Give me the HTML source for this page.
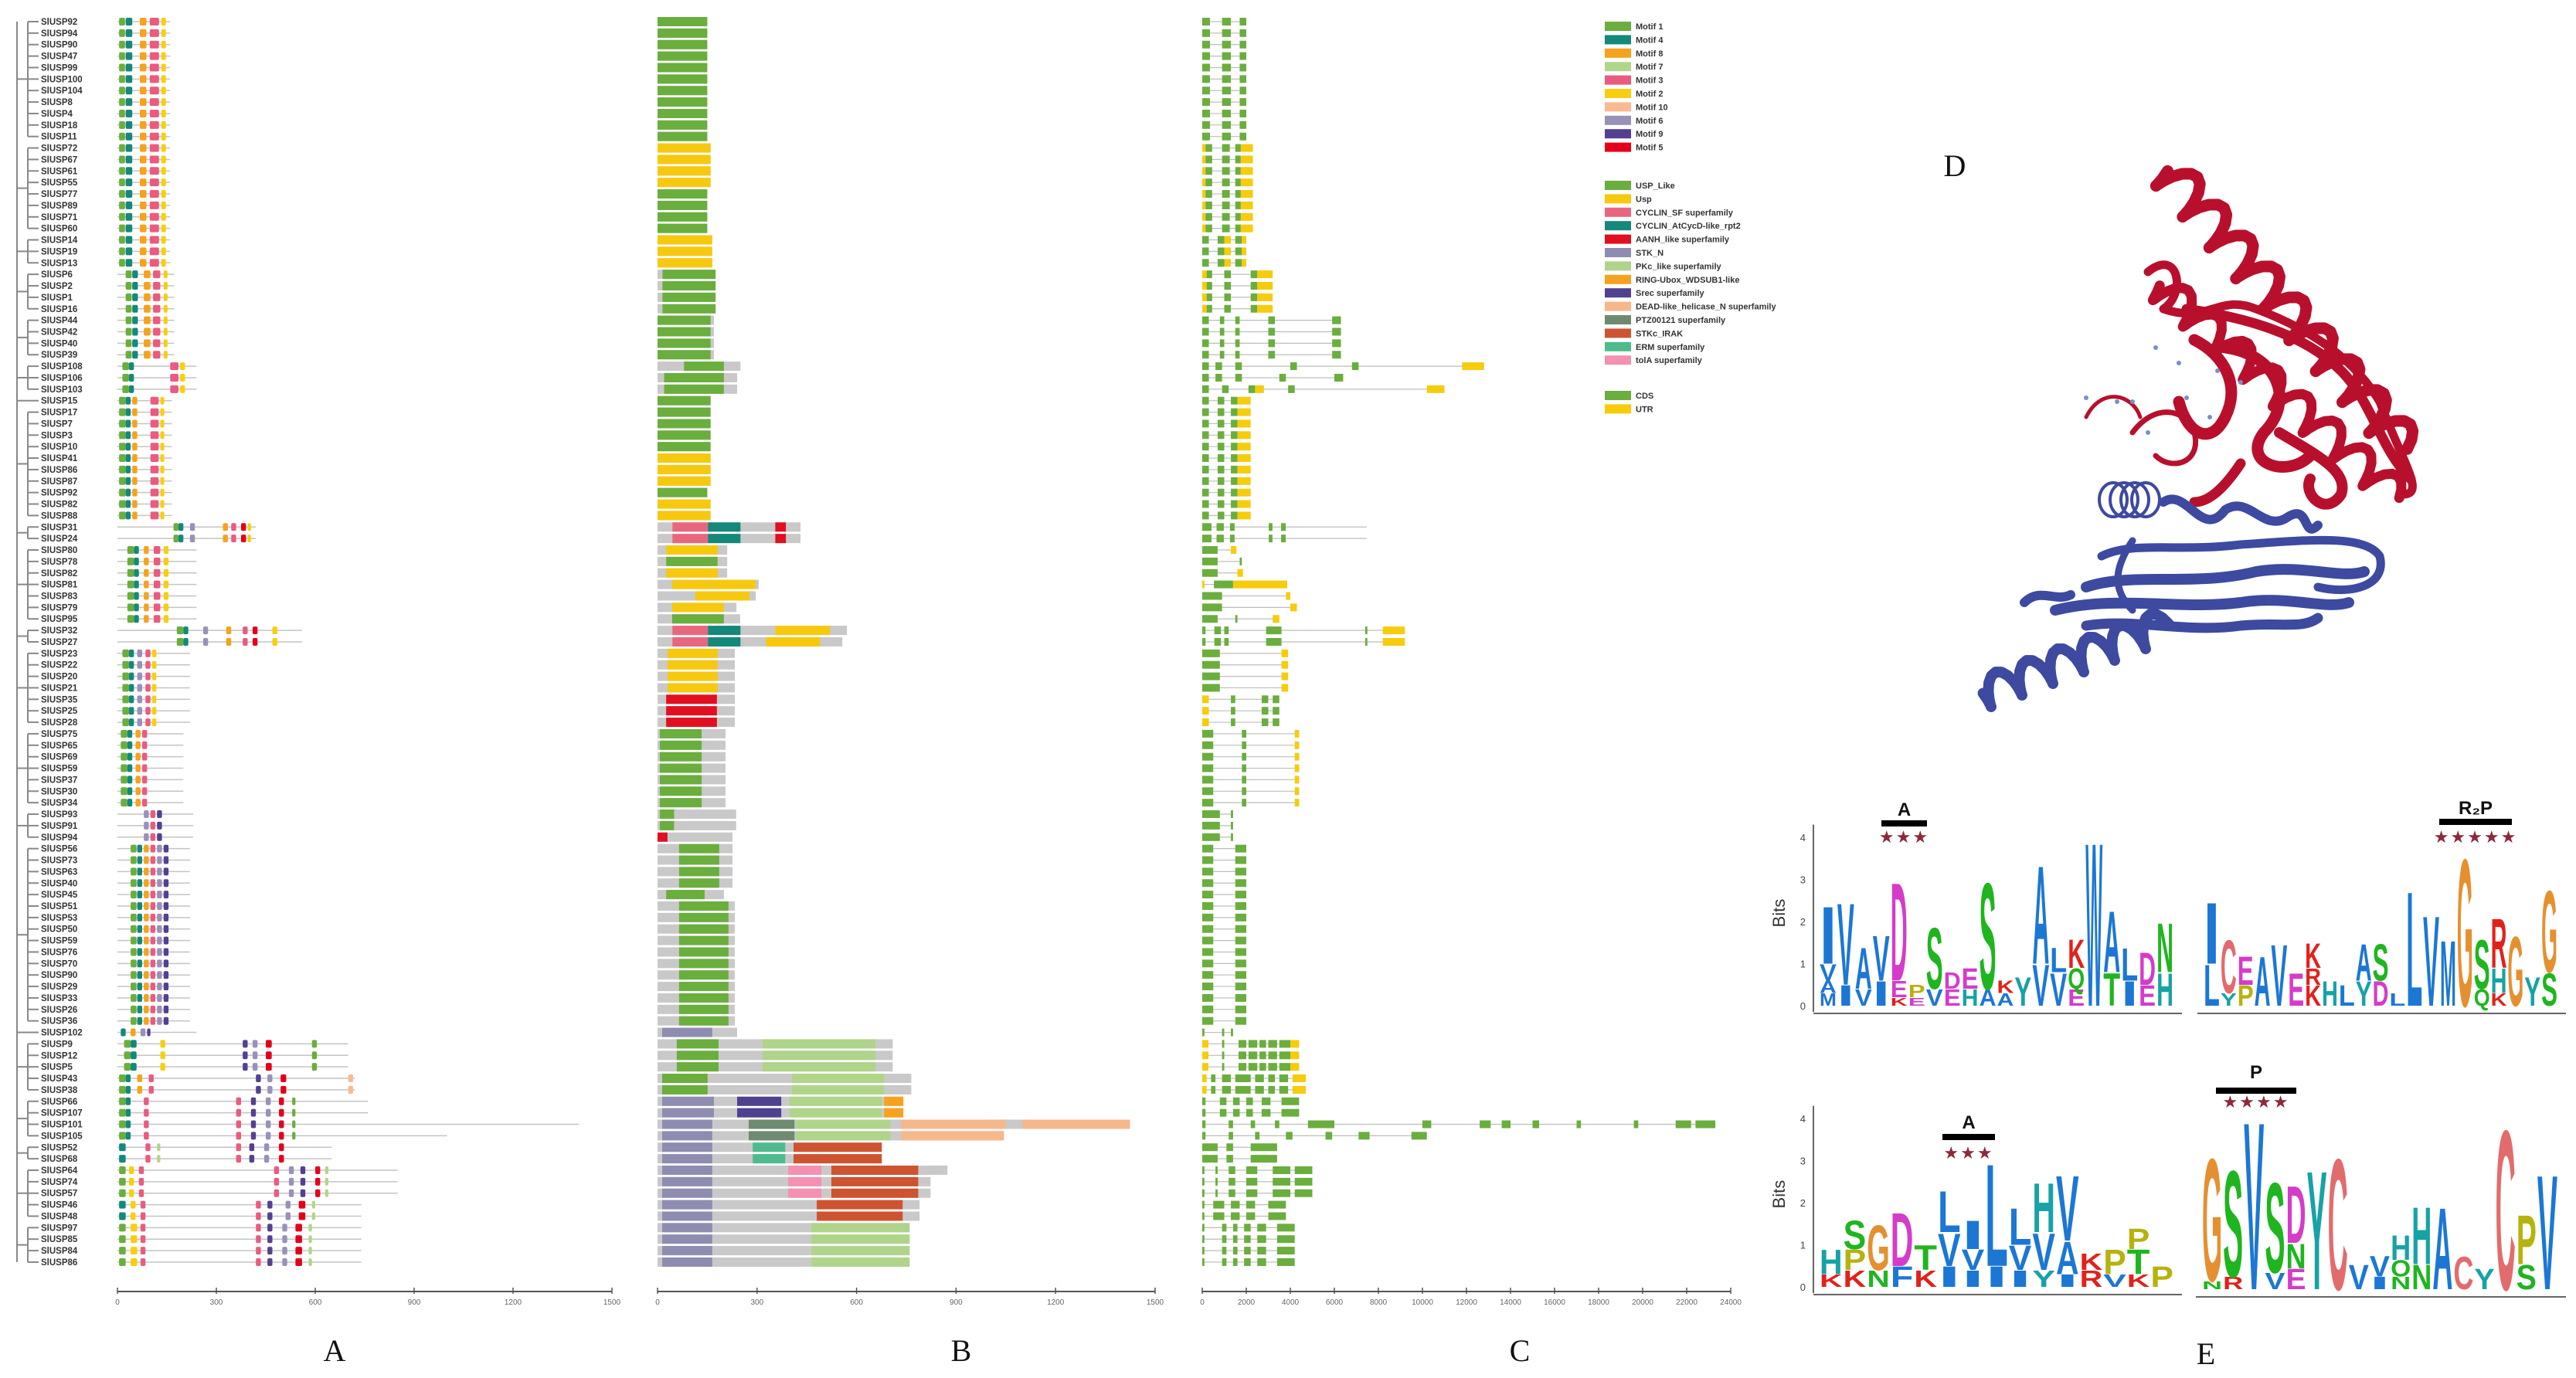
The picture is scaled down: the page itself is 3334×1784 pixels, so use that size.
<!DOCTYPE html>
<html><head><meta charset="utf-8"><title>USP gene family figure</title>
<style>
html,body{margin:0;padding:0;background:#fff;}
svg{display:block;font-family:"Liberation Sans",sans-serif;}
</style></head>
<body>
<svg id="fig" width="3334" height="1784" viewBox="0 0 3334 1784" xmlns="http://www.w3.org/2000/svg">
<rect x="0" y="0" width="3334" height="1784" fill="#fff"/>
<g id="panelA"></g>
<g id="panelB"></g>
<g id="panelC"></g>
<g id="legend"></g>
<g id="panelD"></g>
<g id="panelE"></g>
<text x="433" y="1762" font-family="Liberation Serif,serif" font-size="40" text-anchor="middle" fill="#111">A</text>
<text x="1244" y="1762" font-family="Liberation Serif,serif" font-size="40" text-anchor="middle" fill="#111">B</text>
<text x="1967" y="1762" font-family="Liberation Serif,serif" font-size="40" text-anchor="middle" fill="#111">C</text>
<text x="2530" y="228" font-family="Liberation Serif,serif" font-size="40" text-anchor="middle" fill="#111">D</text>
<text x="2855" y="1766" font-family="Liberation Serif,serif" font-size="40" text-anchor="middle" fill="#111">E</text>
</svg>
<script>
// ---------------- data ----------------
const geneNames = ["SlUSP92","SlUSP94","SlUSP90","SlUSP47","SlUSP99","SlUSP100","SlUSP104","SlUSP8","SlUSP4","SlUSP18","SlUSP11",
"SlUSP72","SlUSP67","SlUSP61","SlUSP55","SlUSP77","SlUSP89","SlUSP71","SlUSP60",
"SlUSP14","SlUSP19","SlUSP13","SlUSP6","SlUSP2","SlUSP1","SlUSP16","SlUSP44","SlUSP42","SlUSP40","SlUSP39",
"SlUSP108","SlUSP106","SlUSP103","SlUSP15",
"SlUSP17","SlUSP7","SlUSP3","SlUSP10","SlUSP41","SlUSP86","SlUSP87","SlUSP92","SlUSP82","SlUSP88",
"SlUSP31","SlUSP24","SlUSP80","SlUSP78","SlUSP82","SlUSP81","SlUSP83","SlUSP79","SlUSP95","SlUSP32","SlUSP27",
"SlUSP23","SlUSP22","SlUSP20","SlUSP21","SlUSP35","SlUSP25","SlUSP28",
"SlUSP75","SlUSP65","SlUSP69","SlUSP59","SlUSP37","SlUSP30","SlUSP34",
"SlUSP93","SlUSP91","SlUSP94",
"SlUSP56","SlUSP73","SlUSP63","SlUSP40","SlUSP45","SlUSP51","SlUSP53","SlUSP50","SlUSP59","SlUSP76","SlUSP70","SlUSP90","SlUSP29","SlUSP33","SlUSP26","SlUSP36",
"SlUSP102",
"SlUSP9","SlUSP12","SlUSP5","SlUSP43","SlUSP38","SlUSP66","SlUSP107","SlUSP101","SlUSP105","SlUSP52","SlUSP68","SlUSP64","SlUSP74","SlUSP57","SlUSP46","SlUSP48","SlUSP97","SlUSP85","SlUSP84","SlUSP86"];

const motifGroups = [
[0,21,160,"M1:5-23,M4:25-45,M8:68-88,M3:98-126,M2:133-147"],
[22,29,172,"M1:25-43,M4:45-62,M8:80-100,M3:108-130,M2:140-152"],
[30,32,240,"M1:15-35,M4:35-50,M3:160-185,M2:190-205"],
[33,43,165,"M1:5-25,M4:25-40,M8:45-60,M3:100-125,M2:130-142"],
[44,45,420,"M1:170-185,M4:185-200,M6:220-235,M8:320-335,M3:345-360,M5:375-390,M2:395-405"],
[46,52,240,"M1:30-50,M4:50-65,M8:80-95,M3:110-130,M2:140-155"],
[53,54,560,"M1:180-200,M4:200-215,M6:260-275,M8:330-345,M3:380-395,M5:410-425,M2:470-485"],
[55,61,220,"M1:15-35,M4:35-50,M6:60-75,M3:85-100,M2:105-118"],
[62,68,200,"M1:10-30,M4:30-45,M8:55-70,M3:75-90"],
[69,71,230,"M6:80-95,M3:100-115,M9:120-135"],
[72,87,220,"M1:40-58,M4:60-75,M8:80-95,M3:100-115,M6:120-135,M9:140-155"],
[88,88,240,"M4:10-25,M8:40-55,M6:70-85,M9:90-100"],
[89,91,700,"M1:20-40,M4:40-58,M2:130-145,M9:380-395,M6:410-425,M5:450-468,M1:590-605"],
[92,93,720,"M1:5-25,M4:25-40,M8:60-75,M3:95-110,M9:420-435,M6:455-470,M5:495-512,M10:700-715"],
[94,95,760,"M1:5-25,M4:25-40,M3:80-95,M3:360-375,M9:405-420,M6:450-465,M5:490-505,M1:530-540"],
[96,96,1400,"M1:5-25,M4:25-40,M3:80-95,M3:360-375,M9:405-420,M6:450-465,M5:490-505,M1:530-540"],
[97,97,1000,"M1:5-25,M4:25-40,M3:80-95,M3:360-375,M9:405-420,M6:450-465,M5:490-505,M1:530-540"],
[98,99,650,"M4:5-25,M3:85-100,M7:120-130,M3:360-375,M9:400-415,M6:445-460,M5:490-505"],
[100,102,850,"M1:5-25,M2:35-50,M3:65-80,M3:475-490,M6:520-535,M9:555-570,M5:600-615,M7:630-640"],
[103,104,740,"M4:5-25,M2:40-55,M3:70-85,M3:420-435,M9:455-470,M6:510-525,M5:550-570,M7:590-600"],
[105,108,740,"M1:5-25,M2:40-60,M3:70-85,M3:420-435,M9:455-470,M6:500-515,M5:540-560,M7:580-590"]
];

const domainGroups = [
[0,10,150,"USP:0-150"],[11,14,160,"Usp:0-160"],[15,18,150,"USP:0-150"],[19,21,165,"Usp:0-165"],
[22,25,175,"USP:15-175"],[26,29,170,"USP:0-160"],[30,30,250,"USP:80-200"],[31,32,240,"USP:20-200"],
[33,37,160,"USP:0-160"],[38,40,160,"Usp:0-160"],[41,41,150,"USP:0-150"],[42,43,160,"Usp:0-160"],
[44,45,431,"CYC:45-152,CYA:152-250,AANH:355-387"],
[46,46,210,"Usp:26-181"],[47,47,210,"USP:26-181"],[48,48,210,"Usp:26-181"],
[49,49,305,"Usp:44-296"],[50,50,296,"Usp:114-277"],[51,51,238,"Usp:44-200"],[52,52,249,"USP:44-200"],
[53,53,571,"CYC:45-152,CYA:152-250,Usp:355-520"],[54,54,557,"CYC:45-152,CYA:152-250,Usp:327-490"],
[55,58,233,"Usp:30-181"],[59,61,233,"AANH:26-179"],[62,68,205,"USP:7-133"],[69,70,237,"USP:7-50"],
[71,71,226,"AANH:0-30"],[72,75,226,"USP:65-186"],[76,76,200,"USP:26-142"],[77,87,233,"USP:65-214"],
[88,88,240,"STKN:14-165"],
[89,91,709,"USP:58-184,PKC:317-657"],
[92,93,765,"USP:14-151,PKC:405-683"],
[94,95,741,"STKN:14-170,SREC:240-373,PKC:398-676,RING:683-741"],
[96,96,1424,"STKN:14-165,PTZ:275-413,PKC:417-702,DEAD:734-1049,DEAD:1100-1424"],
[97,97,1044,"STKN:14-165,PTZ:275-413,PKC:417-702,DEAD:734-1044"],
[98,99,676,"STKN:14-165,ERM:287-385,STKC:410-676"],
[100,100,874,"STKN:14-165,TOLA:394-494,STKC:524-786"],
[101,102,823,"STKN:14-165,TOLA:394-494,STKC:524-786"],
[103,104,790,"STKN:14-165,STKC:480-739"],
[105,108,760,"STKN:14-165,PKC:464-760"]
];

const exonGroups = [
[0,10,2000,"C:0-350,C:900-1300,C:1700-2000"],
[11,18,2300,"U:0-150,C:150-450,C:900-1250,C:1500-1750,U:1750-2300"],
[19,21,2000,"C:0-300,C:700-1000,U:1000-1300,C:1500-1800,U:1800-2000"],
[22,25,3200,"U:0-200,C:200-450,C:1000-1300,C:2200-2500,U:2500-3200"],
[26,29,6300,"C:0-300,C:800-1000,C:1500-1700,C:3000-3300,C:5900-6300"],
[30,30,12800,"C:0-300,C:600-900,C:1500-1800,C:4000-4300,C:6800-7100,U:11800-12800"],
[31,31,6400,"C:0-300,C:600-900,C:1500-1800,C:3500-3800,C:6000-6400"],
[32,32,11000,"C:0-300,C:900-1200,C:2100-2400,U:2400-2800,C:3900-4200,U:10200-11000"],
[33,43,2200,"C:0-300,C:700-1000,C:1300-1600,U:1600-2200"],
[44,45,7470,"C:0-420,C:650-980,C:1260-1470,C:3020-3190,C:3580-3790"],
[46,46,1550,"C:0-700,U:1300-1550"],[47,47,1800,"C:0-700,C:1700-1800"],[48,48,1850,"C:0-700,U:1600-1850"],
[49,49,3860,"U:0-100,C:530-1400,U:1400-3860"],
[50,50,4000,"C:0-900,U:3800-4000"],[51,51,4300,"C:0-900,U:4000-4300"],[52,52,3500,"C:0-700,C:1500-1600,U:3200-3500"],
[53,54,9200,"C:0-150,C:550-850,C:1000-1200,C:2900-3600,C:7400-7500,U:8200-9200"],
[55,58,3900,"C:0-800,U:3600-3900"],
[59,61,3500,"U:0-300,C:1300-1500,C:2700-3000,C:3200-3500"],
[62,68,4400,"C:0-500,C:1800-2000,U:4200-4400"],
[69,71,1400,"C:0-800,C:1300-1400"],
[72,87,2000,"C:0-500,C:1500-2000"],
[88,88,1400,"C:0-100,C:900-1000,C:1300-1400"],
[89,91,4400,"U:0-280,C:900-1000,C:1650-2000,C:2100-2500,C:2600-2900,C:3000-3400,C:3500-4000,U:4000-4400"],
[92,93,4700,"U:0-200,C:400-600,C:900-1300,C:1500-2200,C:2400-2800,C:3000-3300,C:3500-3900,U:4100-4700"],
[94,95,4400,"C:0-150,C:800-1100,C:1400-1700,C:2000-2300,C:2700-3100,C:3600-4400"],
[96,96,23300,"C:0-150,C:1200-1400,C:2200-2400,C:3300-3500,C:4800-6000,C:10000-10400,C:12600-13100,C:13600-14000,C:15000-15300,C:17000-17200,C:19600-19800,C:21500-22200,C:22400-23300"],
[97,97,10200,"C:0-150,C:1200-1400,C:2400-2600,C:3800-4100,C:5600-5900,C:7100-7600,C:9500-10200"],
[98,99,3400,"C:0-700,C:1100-1400,C:2200-3400"],
[100,102,5000,"C:0-100,C:600-700,C:1200-1500,C:2000-2500,C:3200-4000,C:4200-5000"],
[103,104,3800,"C:0-100,C:500-1000,C:1300-1700,C:2000-2400,C:3000-3800"],
[105,108,4200,"C:0-100,C:900-1100,C:1400-1600,C:1900-2200,C:2500-2900,C:3400-4200"]
];

const axisTicksAB = [0,300,600,900,1200,1500];
const axisTicksC = [0,2000,4000,6000,8000,10000,12000,14000,16000,18000,20000,22000,24000];

const motifKeys = ["M1","M4","M8","M7","M3","M2","M10","M6","M9","M5"];
const motifLabels = ["Motif 1","Motif 4","Motif 8","Motif 7","Motif 3","Motif 2","Motif 10","Motif 6","Motif 9","Motif 5"];
const motifColors = {M1:"#6aae3e",M4:"#12897a",M8:"#f5a21d",M7:"#b1d68a",M3:"#ea5b7f",M2:"#f7cf10",M10:"#fbb993",M6:"#9a91b9",M9:"#553f92",M5:"#e4001b"};
const domainKeys = ["USP","Usp","CYC","CYA","AANH","STKN","PKC","RING","SREC","DEAD","PTZ","STKC","ERM","TOLA"];
const domainLabels = ["USP_Like","Usp","CYCLIN_SF superfamily","CYCLIN_AtCycD-like_rpt2","AANH_like superfamily","STK_N","PKc_like superfamily","RING-Ubox_WDSUB1-like","Srec superfamily","DEAD-like_helicase_N superfamily","PTZ00121 superfamily","STKc_IRAK","ERM superfamily","tolA superfamily"];
const domainColors = {USP:"#6aae3e",Usp:"#f6c90f",CYC:"#e8677e",CYA:"#14887a",AANH:"#e10f20",STKN:"#8f8cb2",PKC:"#afd48a",RING:"#f7a21f",SREC:"#4f4190",DEAD:"#f6b88b",PTZ:"#6f8a6e",STKC:"#cd5331",ERM:"#4dbb8c",TOLA:"#f490b2"};
const exonLabels = ["CDS","UTR"];
const exonColors = {C:"#6aae3e",U:"#f6cc0c"};

const logoTL = ["M:.3 A:.3 V:.4 I:1.4","I:.5 V:2.0","V:.4 A:1.0","I:.6 V:1.1","K:.2 E:.4 D:2.4","E:.2 P:.3","V:.4 S:1.5","E:.4 D:.4","H:.4 E:.5","A:.4 S:2.6","A:.3 K:.3","Y:.7","V:1.0 A:2.4","V:.8 L:.6","E:.4 Q:.5 K:.7","W:4.0","T:.8 A:1.5","I:.6 L:.8","E:.5 D:.8","H:.8 N:1.2"];
const logoTR = ["L:1.0 I:1.5","Y:.3 C:1.3","P:.5 E:.7","A:1.2","V:1.5","E:.8","K:.5 R:.4 K:.6","H:.6","L:.5","Y:.6 A:.9","D:.6 S:.9","L:.3","L:2.8","V:2.2","M:1.6","G:3.6","Q:.4 S:1.2","K:.3 H:.6 R:1.2","G:1.7","Y:.7","S:.8 G:2.0"];
const logoBL = ["K:.3 H:.6","K:.4 P:.5 S:.7","N:.4 G:1.1","F:.5 D:1.3","K:.4 T:.6","I:.5 V:.8 L:1.0","I:.4 V:.5 I:.7","I:.5 L:2.5","I:.4 V:.6 L:.9","Y:.4 V:.9 H:1.2","I:.3 A:.8 V:1.6","R:.4 K:.4","V:.3 P:.6","K:.3 T:.6 P:.5","P:.5"];
const logoBR = ["N:.2 G:3.0","R:.3 S:2.6","V:4.1","V:.4 S:2.2","E:.5 N:.6 D:1.4","Y:2.9","C:3.2","V:.6","I:.3 V:.5","N:.3 O:.4 H:.6","N:.6 H:1.4","A:2.0","C:.8","Y:.5","C:3.9","S:.6 P:1.2","V:2.8"];
const letterColors = {A:"#1c77d4",V:"#1c77d4",I:"#1c77d4",L:"#1c77d4",M:"#1c77d4",F:"#1c77d4",W:"#1c77d4",D:"#d43cc9",E:"#d43cc9",S:"#1fb51f",T:"#1fb51f",N:"#1fb51f",Q:"#1fb51f",O:"#1fb51f",G:"#e59030",K:"#e2211b",R:"#e2211b",H:"#17a2a6",Y:"#17a2a6",C:"#e26c6c",P:"#b6b20e"};

// ---------------- helpers ----------------
const NS = "http://www.w3.org/2000/svg";
function el(tag, attrs, parent){
  const e = document.createElementNS(NS, tag);
  for (const k in attrs) e.setAttribute(k, attrs[k]);
  parent.appendChild(e);
  return e;
}
function parseSegs(s){
  return s.split(",").map(p => { const [k, r] = p.split(":"); const [a, b] = r.split("-").map(Number); return {k, a, b}; });
}
function groupFor(groups, i){ return groups.find(g => i >= g[0] && i <= g[1]); }
const rowY = i => 28 + i * 14.87;
const xA = aa => 152 + aa * (640 / 1500);
const xB = aa => 851 + aa * (644 / 1500);
const xC = bp => 1556 + bp * (684 / 24000);

const A = document.getElementById("panelA");
const B = document.getElementById("panelB");
const C = document.getElementById("panelC");
const L = document.getElementById("legend");
const D = document.getElementById("panelD");
const E = document.getElementById("panelE");

// ---------------- tree ----------------
const treeBreaks = [0,11,19,22,26,30,33,34,44,46,53,55,62,69,72,88,89,94,98,100,105,109];
const root = el("line", {x1:22, y1:rowY(0), x2:22, y2:rowY(geneNames.length-1), stroke:"#888", "stroke-width":2}, A);


for (let g = 0; g < treeBreaks.length - 1; g++){
  const a = treeBreaks[g], b = treeBreaks[g+1]-1;
  const v = el("line", {x1:36, y1:rowY(a), x2:36, y2:rowY(b), stroke:"#888", "stroke-width":2}, A);
  
  
  const h = el("line", {x1:22, y1:(rowY(a)+rowY(b))/2, x2:36, y2:(rowY(a)+rowY(b))/2, stroke:"#888", "stroke-width":2}, A);
  
  
}

// ---------------- rows ----------------
geneNames.forEach((name, i) => {
  const y = rowY(i);
  const leaf = el("line", {x1:36, y1:y, x2:50, y2:y, stroke:"#888", "stroke-width":2}, A);
  
  
  const t = el("text", {x:53, y:y+4, "font-size":11.5, "font-weight":"bold", fill:"#333"}, A);
  
  
  t.textContent = name;

  const ga = groupFor(motifGroups, i);
  const la = el("line", {x1:xA(0), y1:y, x2:xA(ga[2]), y2:y, stroke:"#c4c4c4", "stroke-width":1.5}, A);
  
  
  parseSegs(ga[3]).forEach(s => {
    const r = el("rect", {x:xA(s.a), y:y-5, width:Math.max(3, xA(s.b)-xA(s.a)), height:10, rx:2, fill:motifColors[s.k]}, A);
    
    
  });

  const gb = groupFor(domainGroups, i);
  const bg = el("rect", {x:xB(0), y:y-6, width:xB(gb[2])-xB(0), height:12, fill:"#c9c9c9"}, B);
  
  
  parseSegs(gb[3]).forEach(s => {
    const r = el("rect", {x:xB(s.a), y:y-6, width:xB(s.b)-xB(s.a), height:12, fill:domainColors[s.k]}, B);
    
    
  });

  const gc = groupFor(exonGroups, i);
  const lc = el("line", {x1:xC(0), y1:y, x2:xC(gc[2]), y2:y, stroke:"#bdbdbd", "stroke-width":1.2}, C);
  
  
  parseSegs(gc[3]).forEach(s => {
    const r = el("rect", {x:xC(s.a), y:y-5, width:Math.max(2.5, xC(s.b)-xC(s.a)), height:10, fill:exonColors[s.k]}, C);
    
    
  });
});

// ---------------- axes ----------------
function drawAxis(parent, fx, ticks, name){
  const y = 1672;
  const ax = el("line", {x1:fx(ticks[0]), y1:y, x2:fx(ticks[ticks.length-1]), y2:y, stroke:"#555", "stroke-width":2}, parent);
  
  
  ticks.forEach(v => {
    const tk = el("line", {x1:fx(v), y1:y-5, x2:fx(v), y2:y+3, stroke:"#555", "stroke-width":1.5}, parent);
    
    
    const tl = el("text", {x:fx(v), y:y+17, "font-size":10, fill:"#666", "text-anchor":"middle"}, parent);
    
    
    tl.textContent = String(v);
  });
}
drawAxis(A, xA, axisTicksAB, 'x-axis-a');
drawAxis(B, xB, axisTicksAB, 'x-axis-b');
drawAxis(C, xC, axisTicksC, 'x-axis-c');

// ---------------- legend ----------------
function legendBlock(keys, labels, colors, y0){
  keys.forEach((k, j) => {
    const y = y0 + j * 17.4;
    const sw = el("rect", {x:2077, y:y-6, width:34, height:12, fill:colors[k]}, L);
    
    
    const t = el("text", {x:2117, y:y+4, "font-size":11, "font-weight":"bold", fill:"#333"}, L);
    
    
    t.textContent = labels[j];
  });
}
legendBlock(motifKeys, motifLabels, motifColors, 34);
legendBlock(domainKeys, domainLabels, domainColors, 240);
legendBlock(["C","U"], exonLabels, exonColors, 512);

// ---------------- protein D ----------------
function helix(x0,y0,x1,y1,turns,amp,color,w,name){
  const dx=x1-x0, dy=y1-y0, len=Math.hypot(dx,dy), ux=dx/len, uy=dy/len, nx=-uy, ny=ux;
  let d="";
  const steps=turns*12;
  for(let s=0;s<=steps;s++){
    const t=s/steps, ph=t*turns*2*Math.PI;
    const px=x0+dx*t+nx*amp*Math.sin(ph)+ux*amp*0.35*Math.cos(ph);
    const py=y0+dy*t+ny*amp*Math.sin(ph)+uy*amp*0.35*Math.cos(ph);
    d+=(s?"L":"M")+px.toFixed(1)+","+py.toFixed(1);
  }
  const p=el("path",{d:d,fill:"none",stroke:color,"stroke-width":w,"stroke-linejoin":"round","stroke-linecap":"round"},D);
  
  
}
function loop(d,color,w,name){
  const p=el("path",{d:d,fill:"none",stroke:color,"stroke-width":w,"stroke-linejoin":"round","stroke-linecap":"round"},D);
  
  
}
const RED="#b8102c", BLUE="#3d4aa0";
helix(2800,215,3110,575,9,24,RED,15,'red-helix');
helix(2790,365,3100,640,8,20,RED,13,'red-helix');
loop("M2780,352 C2820,320 2830,380 2800,400 C2860,420 2870,380 2920,400 C3000,430 3050,470 3080,520 C3110,600 3140,640 3110,640",RED,11,'red-sheet');
loop("M2830,400 C2900,410 2980,430 3030,480 C3070,520 3080,580 3120,620",RED,13,'red-sheet');
loop("M2840,440 C2880,460 2900,500 2880,540 C2860,580 2830,560 2820,520",RED,15,'red-loop');
loop("M2880,450 C2950,460 2970,520 2930,560 C2900,600 2960,620 2990,590",RED,15,'red-loop');
loop("M2950,560 C3000,590 3040,610 3030,640 C3010,670 2980,640 2990,620",RED,14,'red-loop');
loop("M2760,560 C2790,520 2830,530 2840,560 C2850,600 2810,610 2790,590",RED,7,'red-loop');
loop("M2700,540 C2720,500 2760,510 2770,540",RED,5,'red-loop');
loop("M2900,600 C2880,630 2860,650 2840,650",RED,13,'red-loop');
for(let k=0;k<4;k++){
  const c=el("ellipse",{cx:2735+k*14,cy:647,rx:18,ry:22,fill:"none",stroke:BLUE,"stroke-width":4},D);
  
  
}
loop("M2800,650 C2830,630 2850,700 2880,660 C2910,640 2930,690 2960,670 C2990,650 2980,700 3000,680",BLUE,12,'blue-loop');
loop("M2720,720 C2760,700 2820,715 2900,705 C2980,700 3060,690 3080,720 C3090,760 3040,770 3000,760",BLUE,11,'blue-sheet');
loop("M2700,760 C2760,740 2840,760 2920,740 C2980,730 3030,750 3060,740",BLUE,14,'blue-sheet');
loop("M2660,790 C2740,770 2820,790 2900,780 C2960,770 3010,790 3040,780",BLUE,14,'blue-sheet');
loop("M2700,810 C2760,800 2830,820 2900,810 C2950,805 2980,815 3000,800",BLUE,13,'blue-sheet');
loop("M2620,780 C2640,760 2660,780 2680,770",BLUE,12,'blue-loop');
loop("M2760,700 C2740,730 2730,760 2760,790",BLUE,9,'blue-loop');
helix(2560,900,2800,810,6,20,BLUE,14,'blue-helix');
const dots=[[2790,450],[2820,470],[2760,520],[2830,515],[2870,480],[2900,495],[2780,560],[2740,520],[2860,540],[2700,515]];
dots.forEach(p=>{
  const c=el("circle",{cx:p[0],cy:p[1],r:3,fill:"#7a8fc4"},D);
  
  
});

// ---------------- logos E ----------------
function drawLogo(cols, x0, x1, base, title, barX0, barX1, titleY, barY, starY, nStars, withAxis){
  const g = el("g", {}, E);
  
  
  const bit = 54.5;
  if (withAxis){
    const ya = el("line", {x1:x0-8, y1:base+8, x2:x0-8, y2:base-4.3*bit, stroke:"#666", "stroke-width":2}, g);
    
    
    [0,1,2,3,4].forEach(v => {
      const t = el("text", {x:x0-18, y:base-v*bit+5, "font-size":13, fill:"#444", "text-anchor":"end"}, g);
      
      
      t.textContent = String(v);
    });
    const bl = el("text", {x:0, y:0, "font-size":22, fill:"#333", "text-anchor":"middle", transform:`translate(${x0-45},${base-2.2*bit}) rotate(-90)`}, g);
    
    
    bl.textContent = "Bits";
  }
  const xa = el("line", {x1:x0-8, y1:base+10, x2:x1, y2:base+10, stroke:"#666", "stroke-width":2}, g);
  
  
  const cw = (x1 - x0 - 10) / cols.length;
  cols.forEach((c, j) => {
    let yb = base;
    c.split(" ").forEach(item => {
      const [ch, hs] = item.split(":");
      const h = parseFloat(hs) * bit;
      const t = el("text", {x:0, y:0, "font-size":100, "font-weight":"bold", fill:letterColors[ch] || "#888",
        textLength:(cw-1).toFixed(1), lengthAdjust:"spacingAndGlyphs",
        transform:`translate(${(x0+j*cw).toFixed(1)},${yb.toFixed(1)}) scale(1,${(h/72).toFixed(4)})`}, g);
      
      
      t.textContent = ch;
      yb -= h;
    });
  });
  const bar = el("rect", {x:barX0, y:barY-4, width:barX1-barX0, height:8, fill:"#000"}, g);
  
  
  const tt = el("text", {x:(barX0+barX1)/2, y:titleY, "font-size":24, "font-weight":"bold", fill:"#111", "text-anchor":"middle"}, g);
  
  
  tt.textContent = title;
  const st = el("text", {x:(barX0+barX1)/2, y:starY, "font-size":22, fill:"#8b2a3a", "text-anchor":"middle", "letter-spacing":"2"}, g);
  
  
  st.textContent = "★".repeat(nStars);
}
drawLogo(logoTL, 2355, 2824, 1302, "A", 2435, 2494, 1056, 1066, 1091, 3, true);
drawLogo(logoTR, 2852, 3321, 1302, "R\u2082P", 3157, 3251, 1054, 1064, 1091, 5, false);
drawLogo(logoBL, 2355, 2824, 1666, "A", 2514, 2582, 1461, 1472, 1500, 3, true);
drawLogo(logoBR, 2850, 3321, 1669, "P", 2868, 2972, 1396, 1412, 1434, 4, false);
</script>
</body></html>
